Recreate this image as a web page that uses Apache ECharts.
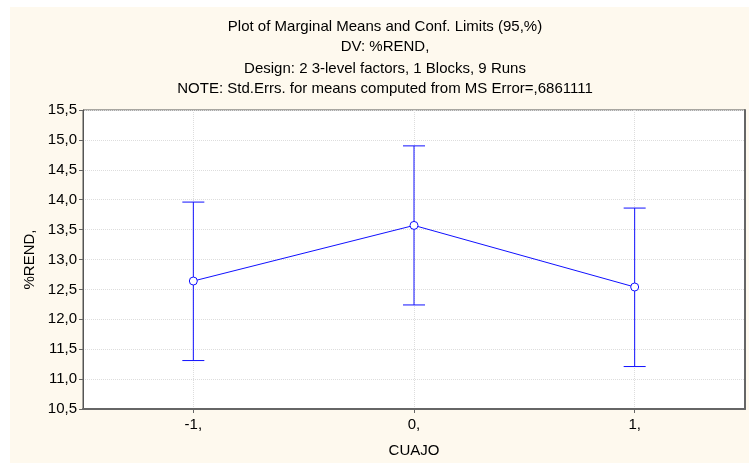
<!DOCTYPE html>
<html><head><meta charset="utf-8">
<script src="https://cdn.jsdelivr.net/npm/echarts@6/dist/echarts.min.js"></script>
<style>html,body{margin:0;padding:0;background:#fff}#c{width:749px;height:463px}</style>
</head><body><div id="c"></div>
<script>
const categories = ['-1,', '0,', '1,'];
const means = [12.64, 13.57, 12.54];
const lower = [11.31, 12.24, 11.21];
const upper = [13.96, 14.90, 13.86];
const yTicks = ['10,5','11,0','11,5','12,0','12,5','13,0','13,5','14,0','14,5','15,0','15,5'];
const titleLines = ['Plot of Marginal Means and Conf. Limits (95,%)','DV: %REND,','Design: 2 3-level factors, 1 Blocks, 9 Runs','NOTE: Std.Errs. for means computed from MS Error=,6861111'];

const blue = '#1010ff';
const chart = echarts.init(document.getElementById('c'), null, {renderer:'canvas'});
const font = 'Liberation Sans, Arial, sans-serif';
const fs = 15;
const titleY = [26.5, 47.3, 68.5, 89];
chart.setOption({
  backgroundColor: 'transparent',
  animation: false,
  graphic: [
    {type:'rect', left:10, top:7, z:-10, shape:{width:739, height:456}, style:{fill:'#fef9ee'}}
  ].concat(titleLines.map((t,i)=>({
      type:'text', x:385, y:titleY[i],
      style:{text:t, font:fs+'px '+font, fill:'#000', textAlign:'center', textVerticalAlign:'middle'}
  }))),
  grid: {left:83, right:4, top:110, bottom:53, show:true, backgroundColor:'#fff', borderColor:'#555', borderWidth:1},
  xAxis: [{
    type:'category', data:categories, boundaryGap:true,
    name:'CUAJO', nameLocation:'middle', nameGap:34,
    nameTextStyle:{fontFamily:font, fontSize:fs, color:'#000'},
    axisLine:{lineStyle:{color:'#666', width:2}},
    axisTick:{show:true, alignWithLabel:true, length:4, lineStyle:{color:'#666'}},
    axisLabel:{fontFamily:font, fontSize:fs, color:'#000', margin:8},
    splitLine:{show:false}
  }],
  yAxis: [{
    type:'value', min:10.5, max:15.5, interval:0.5,
    name:'%REND,', nameLocation:'middle', nameGap:44,
    nameTextStyle:{fontFamily:font, fontSize:fs, color:'#000'},
    axisLine:{show:true, lineStyle:{color:'#555', width:1}},
    axisTick:{show:true, length:4, lineStyle:{color:'#666'}},
    axisLabel:{fontFamily:font, fontSize:fs, color:'#000', margin:6,
      formatter:(v)=>{const i=Math.round((v-10.5)/0.5); return yTicks[i];}},
    splitLine:{show:true, lineStyle:{color:'#ddd', type:'dotted'}}
  },{
    type:'value', min:10.5, max:15.5, interval:0.5, position:'right',
    axisLine:{show:true, lineStyle:{color:'#666', width:2}},
    axisTick:{show:false}, axisLabel:{show:false}, splitLine:{show:false}
  }],
  series: [{
    type:'custom',
    data: categories.map((c,i)=>[i, lower[i], upper[i]]),
    renderItem:(params, api)=>{
      const x = api.value(0);
      const lo = api.coord([x, api.value(1)]);
      const hi = api.coord([x, api.value(2)]);
      const hw = 11;
      const st = {stroke: blue, lineWidth:1};
      return {type:'group', children:[
        {type:'line', shape:{x1:lo[0], y1:lo[1], x2:hi[0], y2:hi[1]}, style:st},
        {type:'line', shape:{x1:lo[0]-hw, y1:lo[1], x2:lo[0]+hw, y2:lo[1]}, style:st},
        {type:'line', shape:{x1:hi[0]-hw, y1:hi[1], x2:hi[0]+hw, y2:hi[1]}, style:st}
      ]};
    },
    z:2
  },{
    type:'line', data:means, symbol:'circle', symbolSize:8,
    lineStyle:{color:blue, width:1},
    itemStyle:{color:'#fff', borderColor:blue, borderWidth:1},
    markLine:{
      silent:true, symbol:'none', label:{show:false}, z:0,
      lineStyle:{color:'#ddd', type:'dotted', width:1},
      data: categories.map(c=>({xAxis:c}))
    },
    z:3
  }]
});
</script></body></html>
